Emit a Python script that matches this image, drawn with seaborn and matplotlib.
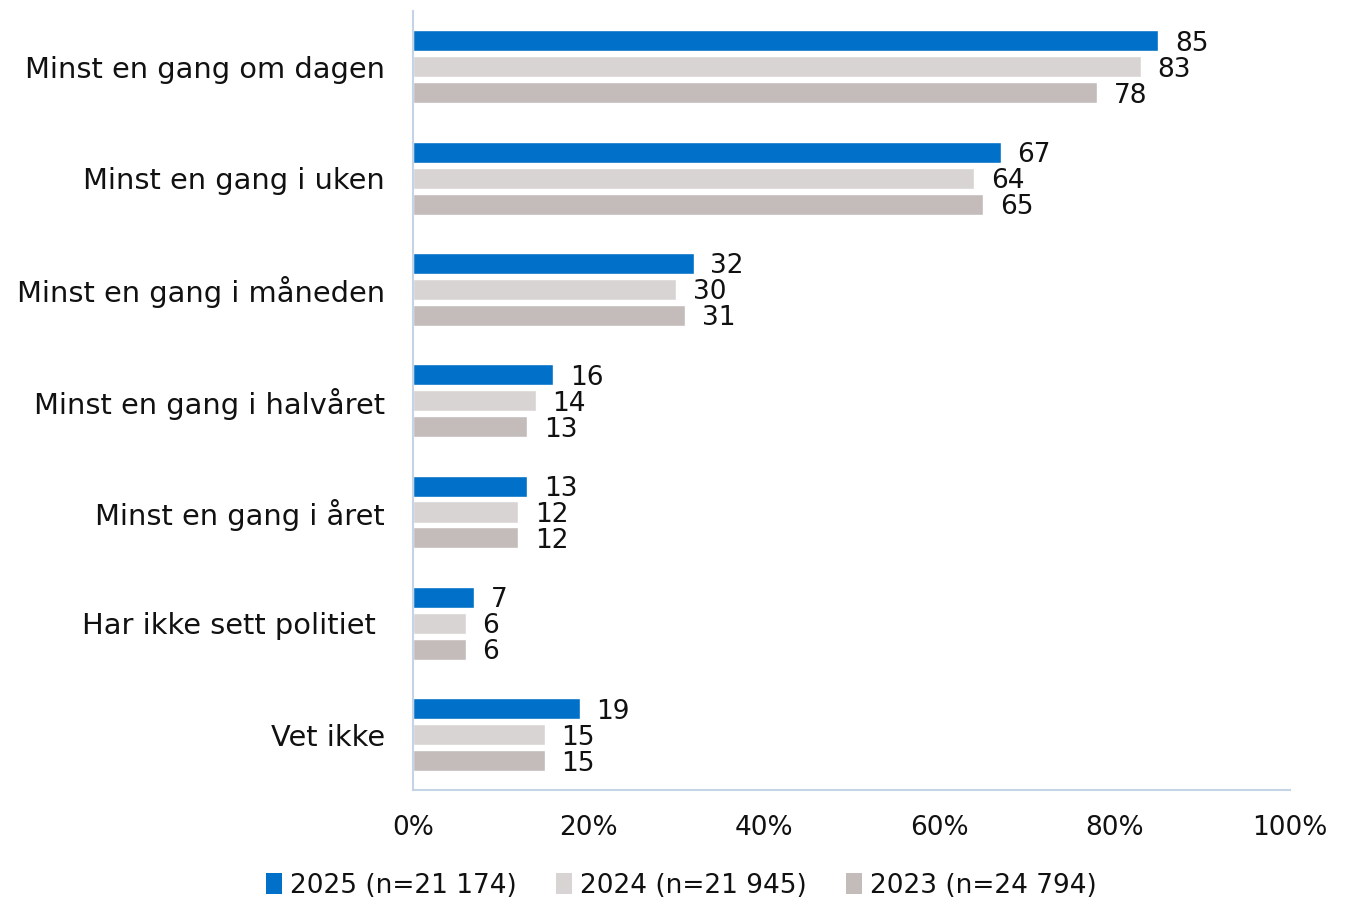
import matplotlib
matplotlib.use("Agg")
import matplotlib.pyplot as plt
import seaborn as sns
import pandas as pd
from matplotlib.patches import Patch
from matplotlib.ticker import FuncFormatter

categories = [
    "Minst en gang om dagen",
    "Minst en gang i uken",
    "Minst en gang i måneden",
    "Minst en gang i halvåret",
    "Minst en gang i året",
    "Har ikke sett politiet ",
    "Vet ikke",
]
series_names = ["2025 (n=21 174)", "2024 (n=21 945)", "2023 (n=24 794)"]
values_2025 = [85, 67, 32, 16, 13, 7, 19]
values_2024 = [83, 64, 30, 14, 12, 6, 15]
values_2023 = [78, 65, 31, 13, 12, 6, 15]
xticks = [0, 20, 40, 60, 80, 100]

colors = ["#0070C8", "#D8D4D3", "#C4BBBB"]
axis_color = "#C5D3E6"
text_color = "#111111"
font_size = 19

sns.set_theme(style="white")
plt.rcParams["font.family"] = ["DejaVu Sans"]

rows = []
for name, vals in zip(series_names, [values_2025, values_2024, values_2023]):
    for cat, v in zip(categories, vals):
        rows.append({"kategori": cat, "serie": name, "verdi": v})
df = pd.DataFrame(rows)

fig = plt.figure(figsize=(13.55, 9.01), dpi=100)
ax = fig.add_axes([0.3048, 0.123, 0.9520 - 0.3048, 0.8645])

sns.barplot(
    data=df, y="kategori", x="verdi", hue="serie",
    order=categories, hue_order=series_names, palette=colors,
    orient="h", width=0.7, gap=0.19, legend=False, ax=ax,
    saturation=1,
)

for container in ax.containers:
    labels = ax.bar_label(container, fmt="%d", padding=12, fontsize=font_size,
                          color=text_color)
    for lab in labels:
        lab.set_verticalalignment("center_baseline")

ax.set_xlim(0, 100)
ax.set_ylim(6.5, -0.5)
ax.set_xticks(xticks)
ax.xaxis.set_major_formatter(FuncFormatter(lambda v, p: f"{int(v)}%"))
ax.tick_params(axis="x", length=0, pad=18, labelsize=font_size, labelcolor=text_color)
ax.tick_params(axis="y", length=0, pad=20, labelsize=20.8, labelcolor=text_color)
ax.set_xlabel("")
ax.set_ylabel("")

for side in ["top", "right"]:
    ax.spines[side].set_visible(False)
for side in ["left", "bottom"]:
    ax.spines[side].set_color(axis_color)
    ax.spines[side].set_linewidth(1.5)

handles = [Patch(facecolor=c, edgecolor="none") for c in colors]
leg = fig.legend(
    handles, series_names, loc="center", bbox_to_anchor=(0.503, 0.017),
    ncol=3, frameon=False, fontsize=font_size, handlelength=0.6,
    handleheight=0.8, handletextpad=0.3, columnspacing=1.5,
)
for t in leg.get_texts():
    t.set_color(text_color)

fig.savefig("out.png", dpi=100)
